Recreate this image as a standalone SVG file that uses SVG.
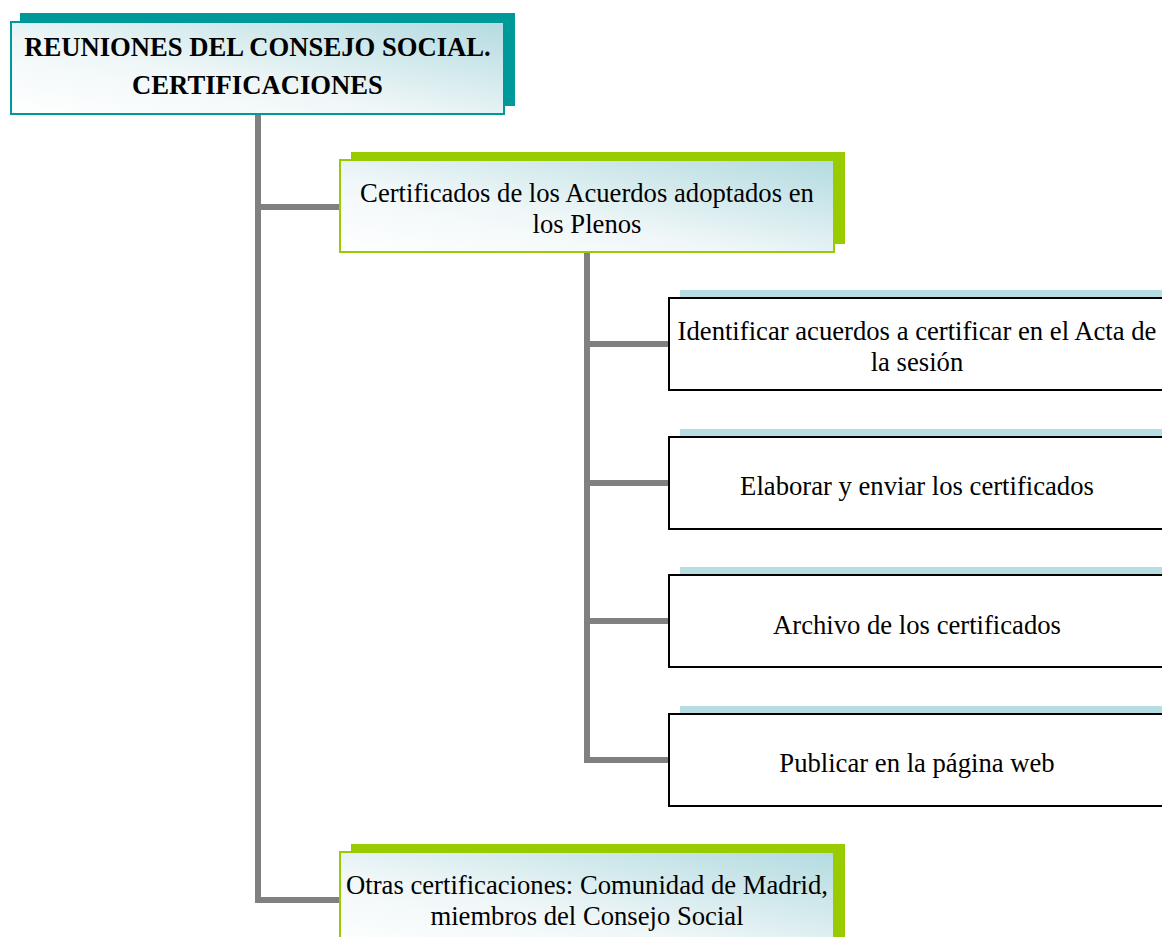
<svg xmlns="http://www.w3.org/2000/svg" width="1162" height="937" viewBox="0 0 1162 937">
<defs>
<linearGradient id="grad" x1="0" y1="1" x2="1" y2="0">
<stop offset="0" stop-color="#ffffff"/>
<stop offset="0.4" stop-color="#f0f7f8"/>
<stop offset="1" stop-color="#b3dbe0"/>
</linearGradient>
</defs>
<style>
.t{font-family:"Liberation Serif","Times New Roman",serif;font-size:26.67px;fill:#000;text-anchor:middle}
.b{font-weight:bold}
.conn{fill:none;stroke:#808080;stroke-width:6;stroke-linejoin:miter;stroke-linecap:butt}
.sh1{fill:#009999}
.sh2{fill:#99cc00}
.sh3{fill:#b6dde1}
.m1{fill:url(#grad);stroke:#009999;stroke-width:2}
.m2{fill:url(#grad);stroke:#99cc00;stroke-width:2}
.m3{fill:#ffffff;stroke:#000000;stroke-width:2}
</style>
<rect width="1162" height="937" fill="#ffffff"/>
<g id="connectors">
<path class="conn" d="M258 114 V900 H341"/>
<path class="conn" d="M258 207 H341"/>
<path class="conn" d="M587 252 V760 H670"/>
<path class="conn" d="M587 344 H670"/>
<path class="conn" d="M587 483 H670"/>
<path class="conn" d="M587 621 H670"/>
</g>
<g id="root">
<rect class="sh1" x="20" y="13" width="495" height="93"/>
<rect class="m1" x="11" y="22" width="493" height="92"/>
<text class="t b" x="257.5" y="56">REUNIONES DEL CONSEJO SOCIAL.</text>
<text class="t b" x="257.5" y="94">CERTIFICACIONES</text>
</g>
<g id="certificados">
<rect class="sh2" x="351" y="152" width="494" height="92"/>
<rect class="m2" x="340" y="160" width="494" height="92"/>
<text class="t" x="587" y="202">Certificados de los Acuerdos adoptados en</text>
<text class="t" x="587" y="233">los Plenos</text>
</g>
<g id="identificar">
<rect class="sh3" x="680" y="290" width="496" height="92"/>
<rect class="m3" x="669" y="298" width="496" height="92"/>
<text class="t" x="917" y="340">Identificar acuerdos a certificar en el Acta de</text>
<text class="t" x="917" y="371">la sesión</text>
</g>
<g id="elaborar">
<rect class="sh3" x="680" y="429" width="496" height="92"/>
<rect class="m3" x="669" y="437" width="496" height="92"/>
<text class="t" x="917" y="495">Elaborar y enviar los certificados</text>
</g>
<g id="archivo">
<rect class="sh3" x="680" y="567" width="496" height="92"/>
<rect class="m3" x="669" y="575" width="496" height="92"/>
<text class="t" x="917" y="634">Archivo de los certificados</text>
</g>
<g id="publicar">
<rect class="sh3" x="680" y="706" width="496" height="92"/>
<rect class="m3" x="669" y="714" width="496" height="92"/>
<text class="t" x="917" y="772">Publicar en la página web</text>
</g>
<g id="otras">
<rect class="sh2" x="351" y="844" width="494" height="100"/>
<rect class="m2" x="340" y="852" width="494" height="100"/>
<text class="t" x="587" y="894">Otras certificaciones: Comunidad de Madrid,</text>
<text class="t" x="587" y="925">miembros del Consejo Social</text>
</g>
</svg>
